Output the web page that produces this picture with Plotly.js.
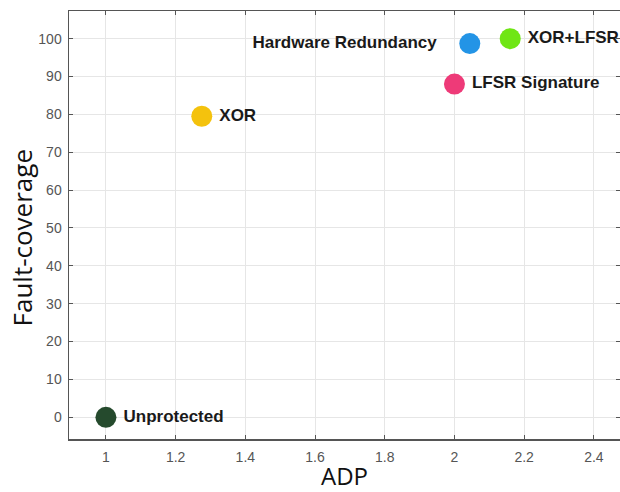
<!DOCTYPE html>
<html>
<head>
<meta charset="utf-8">
<script src="https://cdn.plot.ly/plotly-3.0.1.min.js"></script>
<style>html,body{margin:0;padding:0;background:#fff;}#chart{width:620px;height:492px;}</style>
</head>
<body>
<div id="chart"></div>
<script>
const labels = ["Unprotected", "XOR", "Hardware Redundancy", "XOR+LFSR", "LFSR Signature"];
const adp = [1.0, 1.275, 2.044, 2.16, 2.0];
const faultCoverage = [0, 79.5, 98.7, 100, 88];
const colors = ["#254a2d", "#f4c20d", "#2394e6", "#6fe614", "#ee3a78"];
const textPositions = ["middle right", "middle right", "middle left", "middle right", "middle right"];
const xTicks = [1, 1.2, 1.4, 1.6, 1.8, 2, 2.2, 2.4];
const yTicks = [0, 10, 20, 30, 40, 50, 60, 70, 80, 90, 100];

const traces = labels.map((name, i) => ({
  type: "scatter",
  mode: "markers+text",
  x: [adp[i]],
  y: [faultCoverage[i]],
  text: [textPositions[i] === "middle left" ? "<b>" + name + "</b>\u00a0\u00a0\u00a0\u00a0" : "<b>\u2009" + name + "</b>"],
  textposition: textPositions[i],
  textfont: {family: "Liberation Sans, Arial, sans-serif", size: 17, color: "#1a1a1a"},
  marker: {size: 21, color: colors[i], line: {width: 0}},
  cliponaxis: false,
  showlegend: false,
  hoverinfo: "skip"
}));

const axisCommon = {
  showline: true,
  linecolor: "#555",
  linewidth: 1.5,
  mirror: "ticks",
  ticks: "inside",
  ticklen: 4,
  tickcolor: "#555",
  showgrid: true,
  gridcolor: "#e6e6e6",
  gridwidth: 1,
  zeroline: false,
  tickfont: {family: "Liberation Sans, Arial, sans-serif", size: 14, color: "#555"}
};

const layout = {
  width: 620,
  height: 492,
  margin: {l: 69, r: 0, t: 11, b: 53},
  paper_bgcolor: "#fff",
  plot_bgcolor: "#fff",
  xaxis: Object.assign({}, axisCommon, {
    range: [0.894, 2.475],
    tickvals: xTicks,
    ticktext: xTicks.map(String),
    ticklabelstandoff: 5,
    title: {text: "ADP", font: {family: "Open Sans, Liberation Sans, sans-serif", size: 24, color: "#111"}, standoff: 6}
  }),
  yaxis: Object.assign({}, axisCommon, {
    range: [-5.73, 107.3],
    tickvals: yTicks,
    ticktext: yTicks.map(String),
    ticklabelstandoff: 3
  }),
  annotations: [{
    text: "Fault-coverage",
    textangle: -90,
    xref: "paper", yref: "paper",
    x: 0, y: 0.4685,
    xanchor: "center", yanchor: "middle",
    xshift: -47,
    showarrow: false,
    font: {family: "Open Sans, Liberation Sans, sans-serif", size: 26, color: "#111"}
  }]
};

Plotly.newPlot("chart", traces, layout, {displayModeBar: false, staticPlot: true});
</script>
</body>
</html>
